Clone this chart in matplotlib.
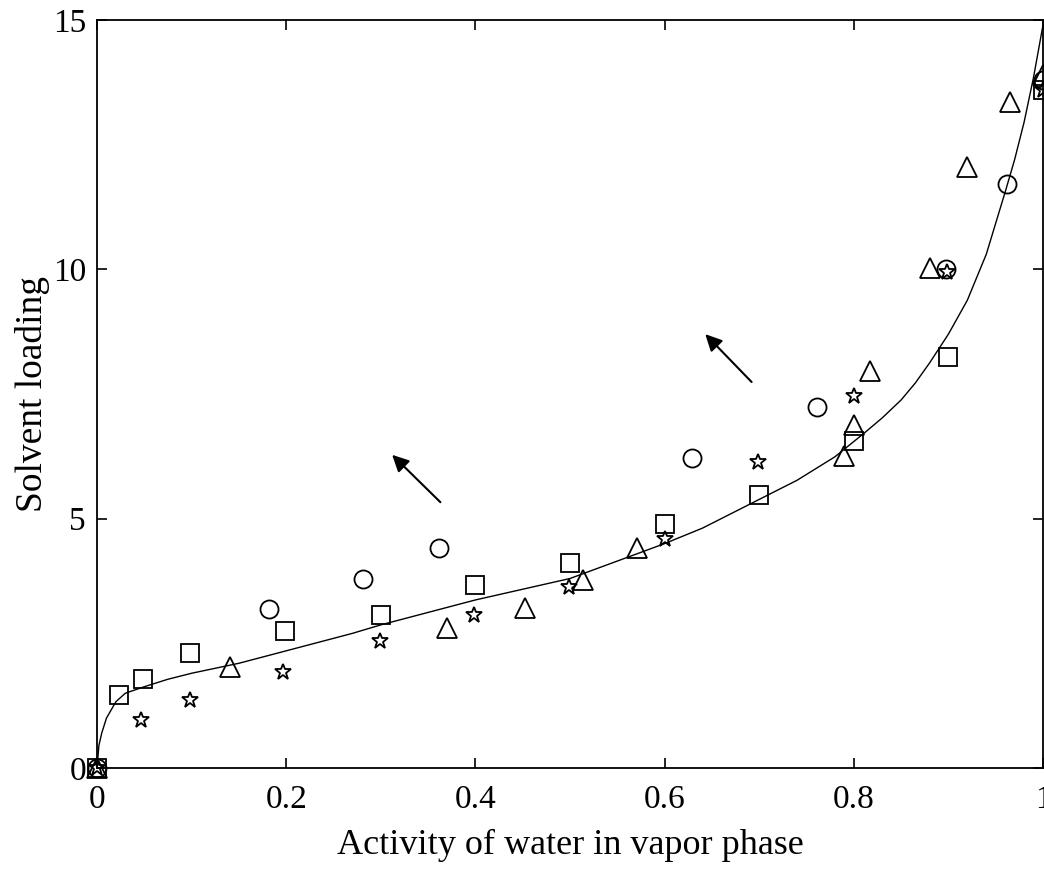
import matplotlib
matplotlib.use("Agg")
import matplotlib.pyplot as plt

plt.rcParams['font.family'] = ['Liberation Serif', 'DejaVu Serif']

# Model curve
curve_x = [0, 0.002, 0.005, 0.01, 0.02, 0.03, 0.05, 0.075, 0.1, 0.15, 0.2, 0.27, 0.3,
           0.4, 0.5, 0.6, 0.64, 0.69, 0.74, 0.78, 0.81, 0.83, 0.85, 0.865, 0.88, 0.9,
           0.92, 0.94, 0.96, 0.97, 0.98, 0.99, 1.0]
curve_y = [0, 0.45, 0.7, 1.0, 1.33, 1.5, 1.63, 1.78, 1.9, 2.1, 2.35, 2.7, 2.87,
           3.37, 3.8, 4.5, 4.81, 5.29, 5.77, 6.24, 6.70, 7.02, 7.38, 7.72, 8.12, 8.7,
           9.38, 10.3, 11.55, 12.2, 12.95, 13.85, 14.9]

# Experimental series
sq_x = [0, 0.023, 0.049, 0.098, 0.199, 0.300, 0.400, 0.500, 0.600, 0.700, 0.800, 0.900, 1.0]
sq_y = [0, 1.46, 1.78, 2.31, 2.75, 3.07, 3.67, 4.11, 4.89, 5.47, 6.56, 8.24, 13.6]

ci_x = [0, 0.182, 0.281, 0.362, 0.629, 0.761, 0.897, 0.962, 1.0]
ci_y = [0, 3.19, 3.79, 4.41, 6.22, 7.24, 10.0, 11.71, 13.8]

tr_x = [0, 0.141, 0.370, 0.452, 0.514, 0.571, 0.790, 0.800, 0.817, 0.881, 0.920, 0.965, 1.0]
tr_y = [0, 2.03, 2.81, 3.21, 3.77, 4.41, 6.26, 6.88, 7.96, 10.03, 12.05, 13.35, 13.9]

st_x = [0, 0.047, 0.098, 0.197, 0.299, 0.398, 0.499, 0.600, 0.699, 0.800, 0.898, 1.0]
st_y = [0, 0.96, 1.36, 1.93, 2.55, 3.07, 3.63, 4.59, 6.14, 7.46, 9.95, 13.6]

# Arrows (tail -> head)
arrow_tails = [(0.363, 5.33), (0.692, 7.74)]
arrow_heads = [(0.312, 6.28), (0.643, 8.70)]

x_ticks = [0, 0.2, 0.4, 0.6, 0.8, 1.0]
x_ticklabels = ['0', '0.2', '0.4', '0.6', '0.8', '1']
y_ticks = [0, 5, 10, 15]
y_ticklabels = ['0', '5', '10', '15']

fig = plt.figure(figsize=(10.44, 8.69), dpi=100)
ax = fig.add_axes([97/1044, 101/869, 946/1044, 748/869])

ax.plot(curve_x, curve_y, color='black', lw=1.0)
mk = dict(linestyle='none', markerfacecolor='none', markeredgecolor='black',
          markeredgewidth=1.3, clip_on=False)
ax.plot(sq_x, sq_y, marker='s', ms=12.5, **mk)
ax.plot(ci_x, ci_y, marker='o', ms=13, **mk)
ax.plot(tr_x, tr_y, marker='^', ms=14, **mk)
ax.plot(st_x, st_y, marker='*', ms=12, **mk)

for (tx, ty), (hx, hy) in zip(arrow_tails, arrow_heads):
    ax.annotate('', xy=(hx, hy), xytext=(tx, ty),
                arrowprops=dict(arrowstyle='-|>', color='black', lw=1.5,
                                mutation_scale=25, shrinkA=0, shrinkB=0))

ax.set_xlim(0, 1)
ax.set_ylim(0, 15)
ax.set_xticks(x_ticks)
ax.set_xticklabels(x_ticklabels)
ax.set_yticks(y_ticks)
ax.set_yticklabels(y_ticklabels)
ax.tick_params(direction='in', length=7, width=1.2, top=True, right=True,
               labelsize=24)
ax.tick_params(axis='x', pad=12)
ax.tick_params(axis='y', pad=8)
for s in ax.spines.values():
    s.set_linewidth(1.3)

ax.set_xlabel('Activity of water in vapor phase', fontsize=26, labelpad=10)
ax.set_ylabel('Solvent loading', fontsize=27, labelpad=2)

fig.savefig('out.png', dpi=100)
